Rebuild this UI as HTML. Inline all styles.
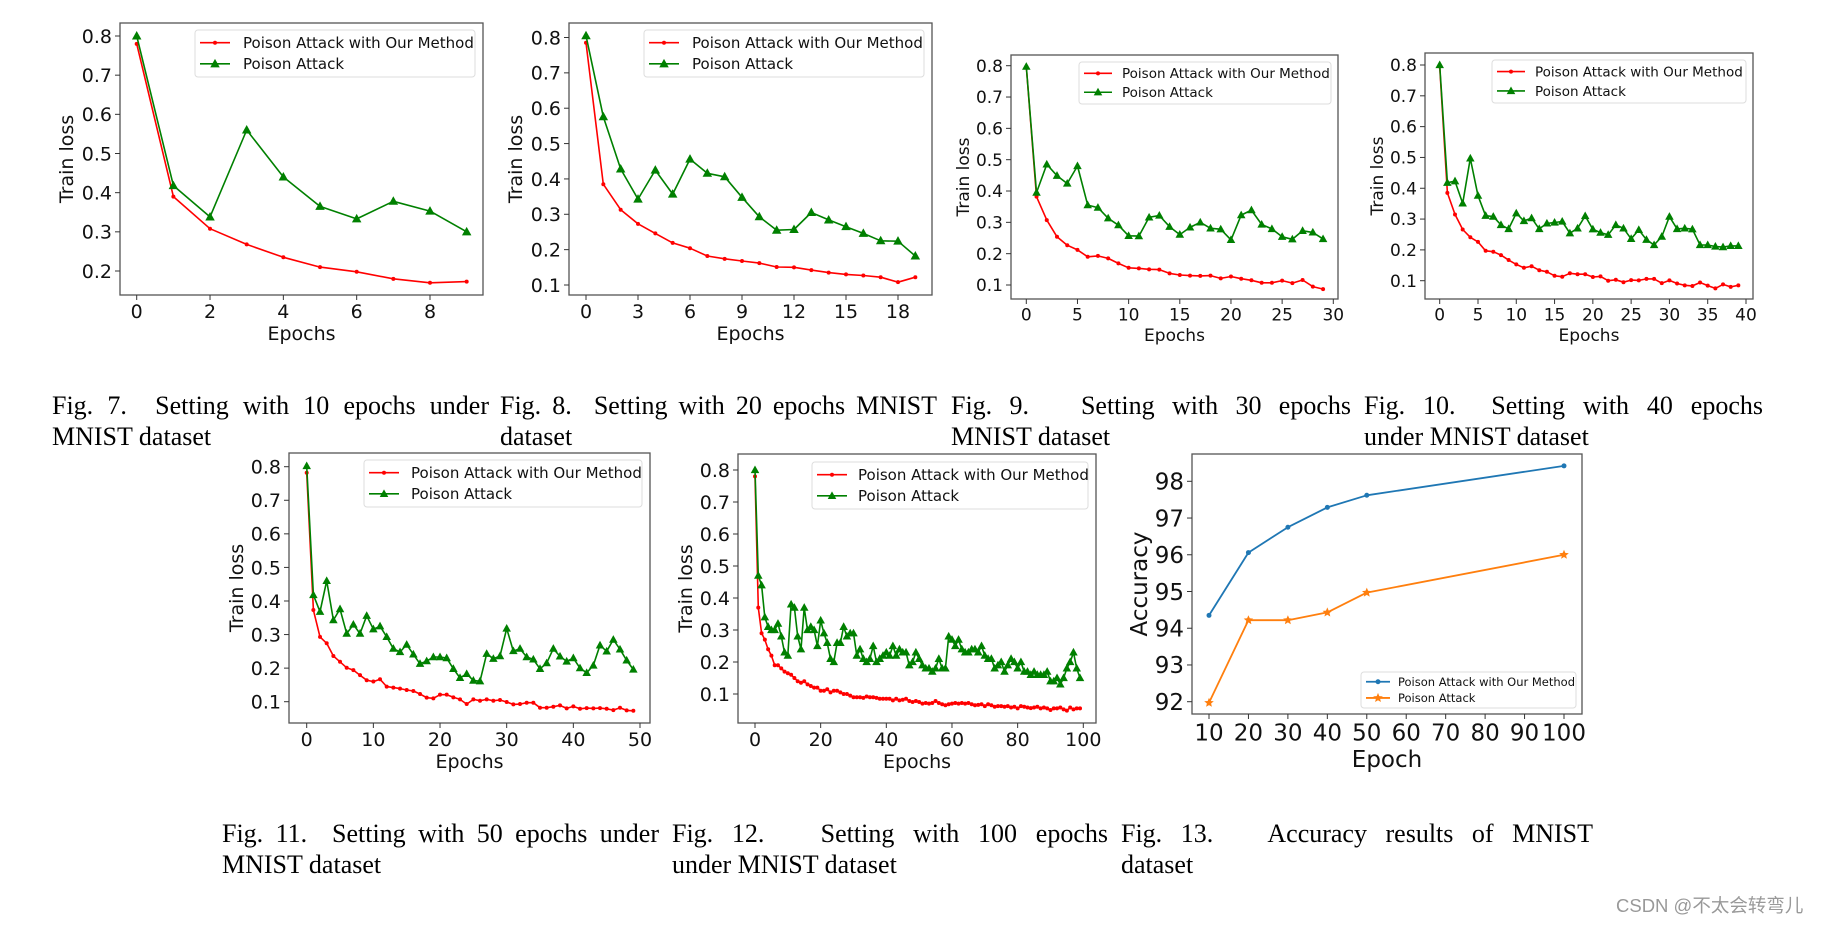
<!DOCTYPE html>
<html><head><meta charset="utf-8"><title>MNIST training charts</title>
<style>
body{margin:0;background:#fff;width:1823px;height:925px;overflow:hidden;position:relative}
svg{position:absolute;left:0;top:0}
.cap{position:absolute;font-family:"Liberation Serif",serif;font-size:26px;line-height:31px;color:#000;white-space:nowrap}
.cap .l1{display:block;text-align:justify;text-align-last:justify;white-space:normal}
.cap .l2{display:block}
.wm{position:absolute;left:1616px;top:892px;font-family:"Liberation Sans","Noto Sans CJK SC",sans-serif;font-size:18.5px;color:#999}
</style></head><body>
<svg id="s" width="1823" height="925" xmlns="http://www.w3.org/2000/svg"></svg>
<div class="cap" style="left:52px;top:390px;width:437px"><span class="l1">Fig. 7.&nbsp; Setting with 10 epochs under</span><span class="l2">MNIST dataset</span></div>
<div class="cap" style="left:500px;top:390px;width:437px"><span class="l1">Fig. 8.&nbsp; Setting with 20 epochs MNIST</span><span class="l2">dataset</span></div>
<div class="cap" style="left:951px;top:390px;width:400px"><span class="l1">Fig. 9.&nbsp;&nbsp; Setting with 30 epochs</span><span class="l2">MNIST dataset</span></div>
<div class="cap" style="left:1364px;top:390px;width:399px"><span class="l1">Fig. 10.&nbsp; Setting with 40 epochs</span><span class="l2">under MNIST dataset</span></div>
<div class="cap" style="left:222px;top:818px;width:437px"><span class="l1">Fig. 11.&nbsp; Setting with 50 epochs under</span><span class="l2">MNIST dataset</span></div>
<div class="cap" style="left:672px;top:818px;width:436px"><span class="l1">Fig. 12.&nbsp;&nbsp; Setting with 100 epochs</span><span class="l2">under MNIST dataset</span></div>
<div class="cap" style="left:1121px;top:818px;width:472px"><span class="l1">Fig. 13.&nbsp;&nbsp; Accuracy results of MNIST</span><span class="l2">dataset</span></div>
<div class="wm">CSDN @不太会转弯儿</div>
<script>
// ---- data ----
const red10=[.78,.39,.308,.268,.235,.21,.198,.18,.17,.173];
const green10=[.80,.418,.338,.56,.44,.365,.333,.378,.353,.30];
const red20=[.785,.385,.313,.273,.246,.219,.204,.182,.174,.168,.162,.151,.150,.142,.135,.130,.127,.122,.108,.122];
const green20=[.805,.576,.428,.343,.425,.357,.456,.416,.406,.348,.293,.255,.257,.305,.284,.265,.246,.225,.224,.182];
const red30=[.797,.382,.307,.254,.227,.212,.190,.193,.185,.169,.155,.153,.150,.149,.137,.132,.130,.129,.130,.121,.127,.120,.115,.107,.107,.114,.106,.116,.095,.087];
const green30=[.797,.395,.485,.449,.424,.480,.355,.347,.313,.291,.257,.256,.316,.322,.286,.261,.284,.300,.281,.278,.244,.323,.339,.293,.279,.254,.246,.273,.268,.247];
const red40=[.795,.385,.315,.266,.241,.226,.197,.194,.183,.167,.153,.142,.147,.134,.129,.116,.113,.124,.121,.121,.112,.114,.100,.103,.095,.102,.101,.106,.106,.092,.101,.091,.085,.083,.094,.084,.075,.088,.080,.085];
const green40=[.80,.418,.423,.351,.497,.376,.311,.308,.281,.268,.319,.294,.303,.268,.286,.289,.292,.254,.270,.310,.267,.256,.249,.281,.270,.236,.265,.233,.216,.243,.308,.268,.270,.267,.216,.216,.211,.209,.213,.213];
const red50=[.782,.373,.293,.274,.236,.219,.201,.194,.179,.164,.160,.167,.145,.142,.139,.135,.132,.123,.112,.110,.121,.121,.113,.107,.093,.107,.103,.107,.103,.105,.099,.092,.093,.097,.097,.082,.082,.085,.089,.080,.086,.079,.081,.080,.081,.079,.075,.082,.074,.073];
const green50=[.802,.418,.368,.46,.343,.376,.303,.330,.303,.356,.316,.325,.293,.258,.248,.270,.241,.213,.221,.233,.233,.230,.198,.171,.183,.163,.161,.243,.228,.236,.318,.251,.258,.233,.226,.198,.215,.258,.235,.220,.230,.200,.186,.208,.268,.250,.285,.256,.223,.196];
const red100=[.78,.37,.29,.27,.24,.22,.19,.19,.18,.17,.165,.16,.15,.14,.135,.14,.13,.125,.12,.12,.11,.11,.115,.105,.11,.11,.105,.10,.10,.095,.09,.09,.09,.088,.092,.09,.09,.088,.085,.085,.085,.085,.08,.085,.08,.082,.085,.078,.075,.078,.075,.07,.072,.07,.072,.078,.072,.068,.065,.068,.07,.072,.07,.072,.07,.072,.068,.065,.066,.068,.062,.068,.065,.06,.062,.062,.06,.062,.058,.06,.055,.062,.06,.058,.056,.058,.06,.055,.058,.055,.05,.055,.055,.058,.052,.048,.058,.052,.055,.055];
const green100=[.80,.47,.44,.34,.31,.30,.30,.32,.28,.23,.22,.38,.37,.28,.24,.37,.30,.31,.30,.25,.33,.29,.26,.21,.20,.26,.26,.31,.28,.29,.29,.22,.24,.21,.20,.21,.25,.20,.21,.22,.23,.22,.25,.22,.24,.23,.23,.19,.20,.23,.21,.19,.18,.18,.17,.18,.21,.18,.18,.28,.27,.25,.27,.24,.23,.23,.24,.24,.23,.25,.22,.21,.21,.18,.19,.20,.17,.19,.21,.20,.18,.20,.17,.17,.16,.17,.16,.16,.16,.17,.14,.14,.15,.13,.15,.18,.20,.23,.18,.15];
const accEpochs=[10,20,30,40,50,100];
const accOurs=[94.35,96.06,96.75,97.29,97.62,98.42];
const accPoison=[91.97,94.22,94.22,94.43,94.97,96.0];
const lossTicks=[0.1,0.2,0.3,0.4,0.5,0.6,0.7,0.8];
const lossTicks7=[0.2,0.3,0.4,0.5,0.6,0.7,0.8];
const xt10=[0,2,4,6,8], xt20=[0,3,6,9,12,15,18], xt30=[0,5,10,15,20,25,30], xt40=[0,5,10,15,20,25,30,35,40], xt50=[0,10,20,30,40,50], xt100=[0,20,40,60,80,100];
const accTicks=[92,93,94,95,96,97,98];
const accXTicks=[10,20,30,40,50,60,70,80,90,100];
const legendNames=["Poison Attack with Our Method","Poison Attack"];

const NS="http://www.w3.org/2000/svg";
const svg=document.getElementById('s');
function el(tag,attrs,parent){const e=document.createElementNS(NS,tag);for(const k in attrs)e.setAttribute(k,attrs[k]);(parent||svg).appendChild(e);return e;}
const FONT='"DejaVu Sans","Liberation Sans",sans-serif';

function marker(g,kind,x,y,color,sz){
  let m;
  if(kind==='dot'){m=el('circle',{cx:x,cy:y,r:sz,fill:color},g);}
  else if(kind==='tri'){m=el('polygon',{points:`${x},${y-sz} ${x-sz*0.95},${y+sz*0.7} ${x+sz*0.95},${y+sz*0.7}`,fill:color},g);}
  else {let p=[];for(let i=0;i<10;i++){const r=i%2?sz*0.45:sz;const a=-Math.PI/2+i*Math.PI/5;p.push((x+r*Math.cos(a)).toFixed(1)+','+(y+r*Math.sin(a)).toFixed(1));}
    m=el('polygon',{points:p.join(' '),fill:color},g);}
  
  
}

function chart(c){
  const g=el('g',{});
  
  
  const xs=v=>c.xp0+(v-c.xv0)*(c.xp1-c.xp0)/(c.xv1-c.xv0);
  const ys=v=>c.yp0+(v-c.yv0)*(c.yp1-c.yp0)/(c.yv1-c.yv0);
  c.series.forEach((s,si)=>{
    const pts=s.y.map((v,i)=>xs(s.x?s.x[i]:i).toFixed(1)+','+ys(v).toFixed(1)).join(' ');
    const pl=el('polyline',{points:pts,fill:'none',stroke:s.color,'stroke-width':c.lw||1.6,'stroke-linejoin':'round'},g);
    
    
    s.y.forEach((v,i)=>marker(g,s.mk,xs(s.x?s.x[i]:i),ys(v),s.color,s.ms));
  });
  const fr=el('rect',{x:c.l,y:c.t,width:c.r-c.l,height:c.b-c.t,fill:'none',stroke:'#555','stroke-width':1.3},g);
  
  
  c.yt.forEach(v=>{const y=ys(v);
    el('line',{x1:c.l-5,x2:c.l,y1:y,y2:y,stroke:'#333','stroke-width':1},g);
    const t=el('text',{x:c.l-8,y:y+c.fs*0.36,'text-anchor':'end','font-family':FONT,'font-size':c.fs,fill:'#111'},g);
    t.textContent=c.yfmt(v);
    
    
  });
  c.xt.forEach(v=>{const x=xs(v);
    el('line',{x1:x,x2:x,y1:c.b,y2:c.b+5,stroke:'#333','stroke-width':1},g);
    const t=el('text',{x:x,y:c.b+8+c.fs*0.8,'text-anchor':'middle','font-family':FONT,'font-size':c.fs,fill:'#111'},g);
    t.textContent=v;
    
    
  });
  const xl=el('text',{x:(c.l+c.r)/2,y:c.xly,'text-anchor':'middle','font-family':FONT,'font-size':c.lfs,fill:'#111'},g);
  xl.textContent=c.xlabel;
  
  
  const yc=(c.t+c.b)/2;
  const yl=el('text',{x:c.ylx,y:yc,'text-anchor':'middle','font-family':FONT,'font-size':c.lfs,fill:'#111',transform:`rotate(-90 ${c.ylx} ${yc})`},g);
  yl.textContent=c.ylabel;
  
  
  const L=c.leg;
  const lg=el('g',{},g);
  
  
  el('rect',{x:L.x,y:L.y,width:L.w,height:L.h,rx:3,fill:'#fff',stroke:'#ddd','stroke-width':1},lg);
  c.series.forEach((s,i)=>{
    const yy=L.y+L.h*(i===0?0.27:0.72);
    const le=el('g',{},lg);
    
    
    el('line',{x1:L.x+5,x2:L.x+5+L.sw,y1:yy,y2:yy,stroke:s.color,'stroke-width':c.lw||1.6},le);
    marker(le,s.mk,L.x+5+L.sw/2,yy,s.color,s.ms);
    const t=el('text',{x:L.x+L.tx,y:yy+L.fs*0.36,'font-family':FONT,'font-size':L.fs,fill:'#111'},le);
    t.textContent=legendNames[i];
  });
}
const RED='#ff0000',GRN='#008000';
const f1=v=>v.toFixed(1);
function lossSeries(r,gr,ms){return [{y:r,color:RED,mk:'dot',ms:2},{y:gr,color:GRN,mk:'tri',ms:ms||5}];}
chart({name:'chart-fig7',l:120,t:23,r:483,b:295,xv0:0,xv1:8,xp0:136.7,xp1:430,yv0:0.8,yv1:0.2,yp0:36,yp1:271,
  series:lossSeries(red10,green10),yt:lossTicks7,xt:xt10,yfmt:f1,fs:19,lfs:19,xlabel:'Epochs',ylabel:'Train loss',xly:340,ylx:73,
  leg:{x:195,y:30,w:280,h:47,sw:30,tx:48,fs:15}});
chart({name:'chart-fig8',l:569,t:23,r:932,b:295,xv0:0,xv1:18,xp0:586,xp1:898,yv0:0.8,yv1:0.1,yp0:37.5,yp1:285,
  series:lossSeries(red20,green20),yt:lossTicks,xt:xt20,yfmt:f1,fs:19,lfs:19,xlabel:'Epochs',ylabel:'Train loss',xly:340,ylx:522,
  leg:{x:644,y:30,w:280,h:47,sw:30,tx:48,fs:15}});
chart({name:'chart-fig9',l:1011,t:55,r:1338,b:299,xv0:0,xv1:30,xp0:1026.3,xp1:1333.3,yv0:0.8,yv1:0.1,yp0:65.7,yp1:285,
  series:lossSeries(red30,green30,4.5),yt:lossTicks,xt:xt30,yfmt:f1,fs:17,lfs:17,xlabel:'Epochs',ylabel:'Train loss',xly:341,ylx:969,
  leg:{x:1079,y:62,w:252,h:42,sw:28,tx:43,fs:13.5}});
chart({name:'chart-fig10',l:1425,t:53,r:1753,b:299,xv0:0,xv1:40,xp0:1439.7,xp1:1746,yv0:0.8,yv1:0.1,yp0:65,yp1:280.7,
  series:lossSeries(red40,green40,4.5),yt:lossTicks,xt:xt40,yfmt:f1,fs:17,lfs:17,xlabel:'Epochs',ylabel:'Train loss',xly:341,ylx:1383,
  leg:{x:1492,y:60,w:254,h:43,sw:28,tx:43,fs:13.5}});
chart({name:'chart-fig11',l:289,t:453,r:650,b:723,xv0:0,xv1:50,xp0:306.7,xp1:640,yv0:0.8,yv1:0.1,yp0:466.7,yp1:701.7,
  series:lossSeries(red50,green50,4.5),yt:lossTicks,xt:xt50,yfmt:f1,fs:19,lfs:19,xlabel:'Epochs',ylabel:'Train loss',xly:768,ylx:243,
  leg:{x:364,y:460,w:278,h:47,sw:30,tx:47,fs:15}});
chart({name:'chart-fig12',l:738,t:454,r:1096,b:723,xv0:0,xv1:100,xp0:755,xp1:1083.3,yv0:0.8,yv1:0.1,yp0:470,yp1:694,
  series:lossSeries(red100,green100,4.5),yt:lossTicks,xt:xt100,yfmt:f1,fs:19,lfs:19,xlabel:'Epochs',ylabel:'Train loss',xly:768,ylx:692,
  leg:{x:812,y:462,w:276,h:47,sw:30,tx:46,fs:15}});
chart({name:'chart-fig13',l:1192,t:454,r:1582,b:714,xv0:10,xv1:100,xp0:1209,xp1:1564,yv0:98,yv1:92,yp0:481.3,yp1:701.7,lw:1.8,
  series:[{x:accEpochs,y:accOurs,color:'#1f77b4',mk:'dot',ms:2.5},{x:accEpochs,y:accPoison,color:'#ff7f0e',mk:'star',ms:5}],
  yt:accTicks,xt:accXTicks,yfmt:v=>v,fs:23,lfs:23,xlabel:'Epoch',ylabel:'Accuracy',xly:767,ylx:1147,
  leg:{x:1361,y:672,w:215,h:36,sw:24,tx:37,fs:11.5}});
</script>
</body></html>
